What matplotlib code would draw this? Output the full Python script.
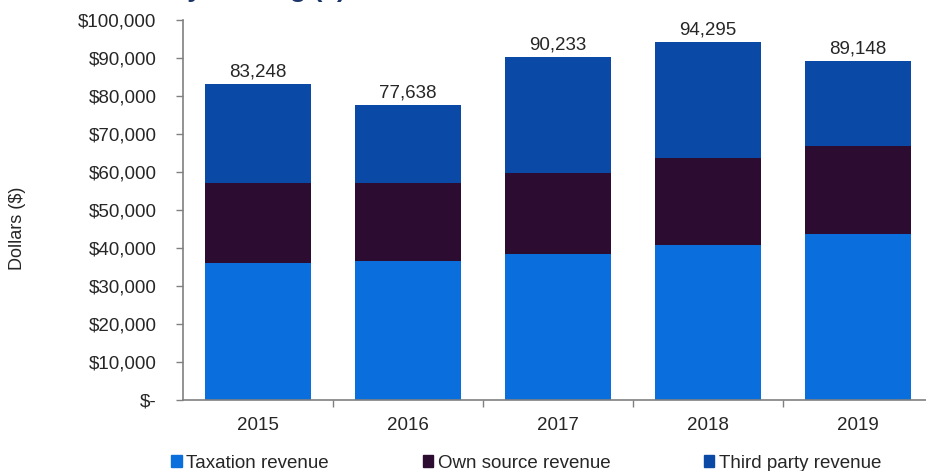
import numpy as np
import matplotlib.pyplot as plt
from matplotlib.ticker import FuncFormatter, FixedLocator
from matplotlib.patches import Patch

plt.rcParams['font.family'] = ['Liberation Sans', 'DejaVu Sans']

years = ['2015', '2016', '2017', '2018', '2019']
totals = [83248, 77638, 90233, 94295, 89148]
taxation = [36000, 36600, 38400, 40900, 43800]
own_source = [21000, 20500, 21300, 22800, 23000]
third_party = [t - a - b for t, a, b in zip(totals, taxation, own_source)]

c_tax = '#0a6fdc'
c_own = '#2c0c31'
c_third = '#0a4aa6'
txt = '#262626'

fig = plt.figure(figsize=(9.26, 4.71), dpi=100)
ax = fig.add_axes([183 / 926, 71 / 471, 1 - 183 / 926, 380 / 471])

x = np.arange(len(years))
w = 0.71
ax.bar(x, taxation, w, color=c_tax, zorder=2)
ax.bar(x, own_source, w, bottom=taxation, color=c_own, zorder=2)
base = np.array(taxation) + np.array(own_source)
ax.bar(x, third_party, w, bottom=base, color=c_third, zorder=2)

for xi, tot in zip(x, totals):
    ax.text(xi, tot + 900, f'{tot:,}', ha='center', va='bottom',
            fontsize=13.5, color=txt)

ax.set_xlim(-0.5, 4.453)
ax.set_ylim(0, 100000)
ax.set_yticks(np.arange(0, 100001, 10000))
ax.yaxis.set_major_formatter(FuncFormatter(
    lambda v, p: '$-' if v == 0 else f'${v:,.0f}'))
ax.tick_params(axis='y', labelsize=13.5, labelcolor=txt, color='#808080',
               length=5, width=1, pad=14)

ax.set_xticks(x)
ax.set_xticklabels(years)
ax.xaxis.set_minor_locator(FixedLocator(x[:-1] + 0.5))
ax.tick_params(axis='x', which='major', length=0, labelsize=13.5,
               labelcolor=txt, pad=12)
ax.tick_params(axis='x', which='minor', length=5, color='#808080', width=1)

for s in ['top', 'right']:
    ax.spines[s].set_visible(False)
for s in ['left', 'bottom']:
    ax.spines[s].set_color('#808080')
    ax.spines[s].set_linewidth(1.2)

fig.text(18 / 926, 1 - 228 / 471, 'Dollars ($)', rotation=90,
         ha='center', va='center', fontsize=13, color=txt)

# heading runs off the top; only its descenders remain on the canvas
fig.text(54 / 926, 1 + 3 / 471, 'Revenue by funding ($)', ha='left',
         va='baseline', fontsize=19, fontweight='bold', color='#1c3468')

handles = [Patch(color=c_tax), Patch(color=c_own), Patch(color=c_third)]
labels = ['Taxation revenue', 'Own source revenue', 'Third party revenue']
fig.legend(handles, labels, loc='lower left', bbox_to_anchor=(160 / 926, -0.025),
           ncol=3, frameon=False, fontsize=13.5, handlelength=0.55,
           handleheight=0.55, handletextpad=0.25, columnspacing=5.0,
           labelcolor=txt, borderpad=0.1)

fig.savefig('out.png', dpi=100)
